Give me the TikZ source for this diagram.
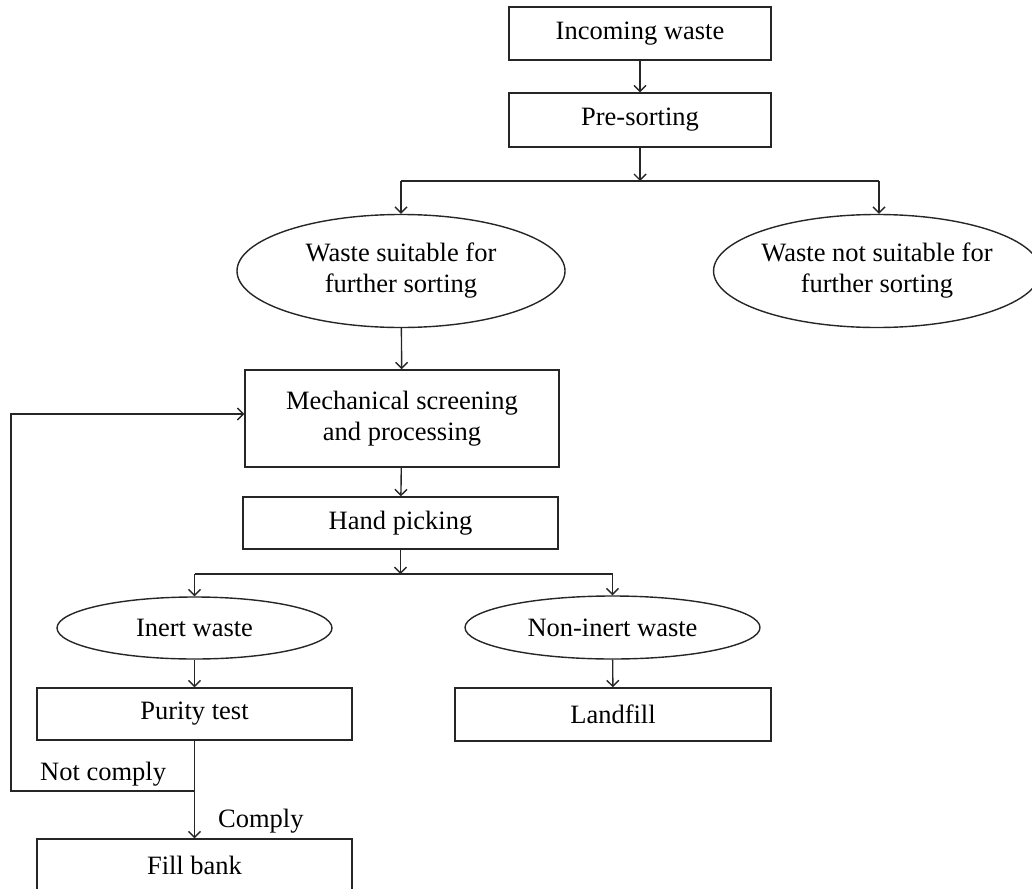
\documentclass[tikz,border=0pt]{standalone}
\usepackage{fontspec}
\setmainfont{Liberation Serif}
\usetikzlibrary{arrows.meta,shapes.geometric}

\tikzset{
  base/.style={draw=black!85, line width=1.4pt, inner sep=0pt, align=center,
    font=\fontsize{26.5}{31}\selectfont},
  stepbox/.style={base, rectangle},
  oval/.style={base, ellipse},
  flow/.style={draw=black!85, line width=1.4pt, -{Straight Barb[length=6pt,width=12pt]}},
  plain/.style={draw=black!85, line width=1.4pt},
  lbl/.style={inner sep=0pt, anchor=base west, font=\fontsize{26.5}{31}\selectfont}
}

\begin{document}
\begin{tikzpicture}[x=1pt, y=-1pt]
  \useasboundingbox (0,0) rectangle (1032,888);
  \clip (0,0) rectangle (1032,888);

  % boxes and ovals
  \node[stepbox, minimum width=262pt, minimum height=53pt] (inc) at (640,33.5) {Incoming waste};
  \node[stepbox, minimum width=262pt, minimum height=54pt] (pre) at (640,120) {Pre-sorting};
  \node[oval, minimum width=328pt, minimum height=113pt] (wsf) at (401,271)
    {Waste suitable for\\further sorting};
  \node[oval, minimum width=318pt, minimum height=113pt] (wns) at (877,271)
    {Waste not suitable for\\further sorting};
  \node[stepbox, minimum width=314pt, minimum height=97pt] (mech) at (402,418.5)
    {Mechanical screening\\and processing};
  \node[stepbox, minimum width=315pt, minimum height=52pt] (hand) at (400.5,523) {Hand picking};
  \node[oval, minimum width=275pt, minimum height=62pt] (inert) at (194.5,628) {Inert waste};
  \node[oval, minimum width=295pt, minimum height=63pt] (noninert) at (612.5,627.5) {Non-inert waste};
  \node[stepbox, minimum width=315pt, minimum height=52pt] (purity) at (194.5,714) {Purity test};
  \node[stepbox, minimum width=316pt, minimum height=53pt] (landfill) at (613,714.5) {Landfill};
  \node[stepbox, minimum width=315pt, minimum height=52pt] (fill) at (194.5,865) {Fill bank};

  % junction points
  \coordinate (b1) at (640,181);
  \coordinate (b1l) at (401,181);
  \coordinate (b1r) at (879,181);
  \coordinate (b2) at (400.5,574);
  \coordinate (b2l) at (194.5,574);
  \coordinate (b2r) at (612.5,574);
  \coordinate (lp) at (194.5,791);
  \coordinate (lpl) at (11,791);
  \coordinate (lpu) at (11,414);

  % connectors
  \draw[flow] (inc) -- (pre);
  \draw[flow] (pre) -- (b1);
  \draw[plain] (b1l) -- (b1r);
  \draw[flow] (b1l) -- (wsf.north);
  \draw[flow] (b1r) -- (b1r |- wns.north);
  \draw[flow] (wsf) -- (mech);
  \draw[flow] (mech) -- (hand);
  \draw[flow] (hand) -- (b2);
  \draw[plain] (b2l) -- (b2r);
  \draw[flow] (b2l) -- (inert.north);
  \draw[flow] (b2r) -- (noninert.north);
  \draw[flow] (inert) -- (purity);
  \draw[flow] (noninert) -- (landfill);
  \draw[flow] (purity) -- (fill);
  \draw[flow] (lp) -- (lpl) -- (lpu) -- (mech.west |- lpu);

  % branch labels
  \node[lbl] (nc) at (40,780) {Not comply};
  \node[lbl] (cp) at (218,827) {Comply};
\end{tikzpicture}
\end{document}
